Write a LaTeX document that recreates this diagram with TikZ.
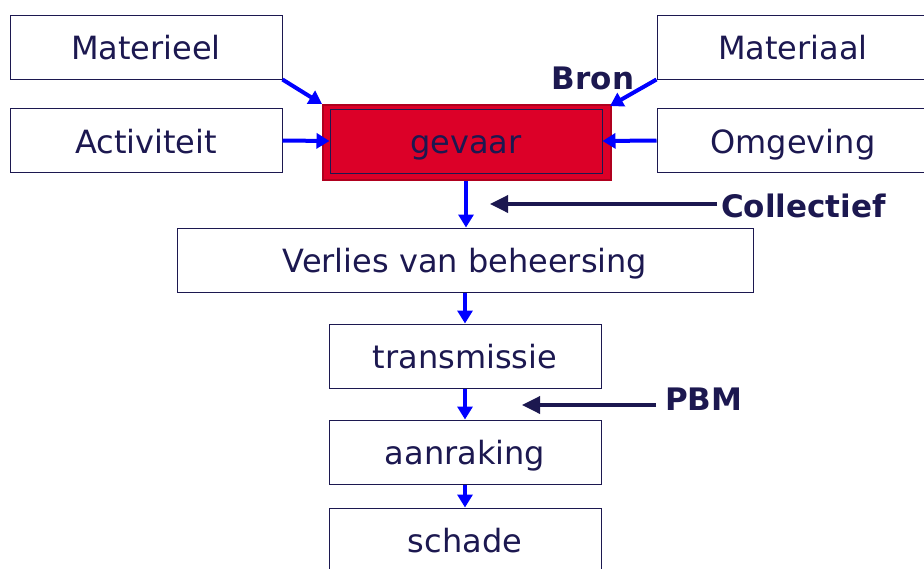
\documentclass[tikz,border=0pt]{standalone}
\usepackage{fontspec}
\setmainfont{DejaVu Sans}
\usetikzlibrary{arrows.meta,positioning}
\definecolor{navy}{HTML}{1C1850}
\definecolor{gevaarred}{HTML}{DC0028}
\definecolor{darkred}{HTML}{B0001E}
\tikzset{
  box/.style={draw=navy,line width=1pt,fill=white,text=navy,minimum width=272pt,minimum height=64pt,
    inner sep=0pt,text height=27pt,text depth=2pt},
  flow/.style={draw=blue,line width=4pt,-{Triangle[length=13pt,width=15pt]}},
  label/.style={text=navy,font=\fontsize{31}{37}\selectfont\bfseries,inner sep=6pt},
  pointer/.style={draw=navy,line width=3.5pt,-{Triangle[length=18pt,width=17pt]}}
}
\begin{document}
\begin{tikzpicture}[x=1pt,y=-1pt,font=\fontsize{32}{38}\selectfont]
\useasboundingbox (0,0) rectangle (924,568);
\clip (0,0) rectangle (924,568);
% inputs
\node[box] (materieel) at (146,47) {Materieel};
\node[box] (activiteit) at (146,140.5) {Activiteit};
\node[box] (materiaal) at (793,47) {Materiaal};
\node[box] (omgeving) at (793,140.5) {Omgeving};
% bron
\node[draw=darkred,line width=2pt,fill=gevaarred,minimum width=288pt,minimum height=75pt] (gevaarbg) at (467,142.5) {};
\node[box,fill=gevaarred] (gevaar) at (466,141) {gevaar};
% chain
\node[box,minimum width=576pt] (verlies) at (465,260) {Verlies van beheersing};
\node[box] (transmissie) at (465,356) {transmissie};
\node[box] (aanraking) at (465,452) {aanraking};
\node[box] (schade) at (465,540) {schade};
\draw[flow] (materieel.south east) -- (gevaarbg.north west);
\draw[flow] (materiaal.south west) -- ([xshift=-2pt,yshift=-2pt]gevaarbg.north east);
\draw[flow] (activiteit.east) -- (gevaar.west);
\draw[flow] (omgeving.west) -- (gevaar.east);
\draw[flow] (gevaar.south |- gevaarbg.south) -- (verlies.north -| gevaar.south);
\foreach \a/\b in {verlies/transmissie,transmissie/aanraking,aanraking/schade}
  \draw[flow] (\a.south) -- (\b.north);
% maatregelen
\node[label] (bron) at (593,78) {Bron};
\node[label,anchor=west] (collectief) at (715,206) {Collectief};
\coordinate (collend) at (490,204);
\draw[pointer] ([xshift=2pt]collectief.west |- collend) -- (collend);
\node[label,anchor=west] (pbm) at (659,399) {PBM};
\coordinate (pbmend) at (522,405);
\draw[pointer] ([xshift=-3pt]pbm.west |- pbmend) -- (pbmend);
\end{tikzpicture}
\end{document}
